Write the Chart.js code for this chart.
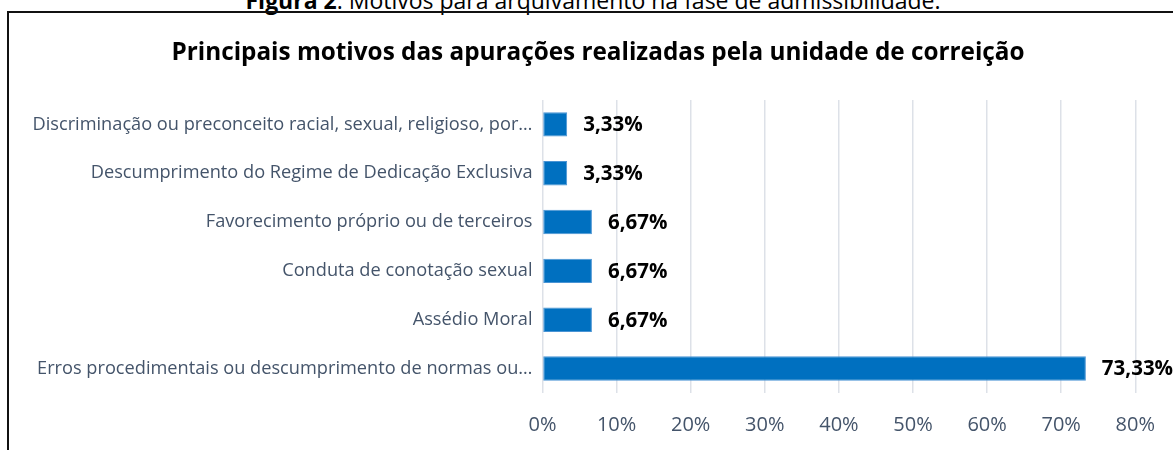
<!DOCTYPE html>
<html>
<head>
<meta charset="utf-8">
<script src="https://cdn.jsdelivr.net/npm/chart.js@4.4.1/dist/chart.umd.min.js"></script>
<style>
  html, body { margin: 0; padding: 0; background: #fff; overflow: hidden; }
  #wrap { position: relative; width: 1173px; height: 450px; }
  #frame { position: absolute; left: 7px; top: 11px; width: 1170px; height: 450px;
           border-top: 2px solid #111; border-left: 2px solid #111; box-sizing: border-box; }
  #fig { position: absolute; left: 0; width: 1186px; text-align: center; top: -11px;
         font-family: "Open Sans", sans-serif; font-size: 23px; line-height: 22px; color: #000; white-space: nowrap; }
  canvas { position: absolute; left: 0; top: 0; }
</style>
</head>
<body>
<div id="wrap">
  <div id="fig"><b>Figura 2</b>: Motivos para arquivamento na fase de admissibilidade.</div>
  <div id="frame"></div>
  <canvas id="c" width="1173" height="450"></canvas>
</div>
<script>
const titleText = "Principais motivos das apurações realizadas pela unidade de correição";
const categories = [
  "Discriminação ou preconceito racial, sexual, religioso, por…",
  "Descumprimento do Regime de Dedicação Exclusiva",
  "Favorecimento próprio ou de terceiros",
  "Conduta de conotação sexual",
  "Assédio Moral",
  "Erros procedimentais ou descumprimento de normas ou…"
];
const values = [3.33, 3.33, 6.67, 6.67, 6.67, 73.33];
const valueLabels = ["3,33%", "3,33%", "6,67%", "6,67%", "6,67%", "73,33%"];
const xTicks = [0, 10, 20, 30, 40, 50, 60, 70, 80];

const labelColor = "#44546A";

const valueLabelPlugin = {
  id: "valueLabels",
  afterDatasetsDraw(chart) {
    const ctx = chart.ctx;
    const meta = chart.getDatasetMeta(0);
    ctx.save();
    ctx.font = "bold 20.5px 'Open Sans', sans-serif";
    ctx.fillStyle = "#000";
    ctx.textAlign = "left";
    ctx.textBaseline = "middle";
    meta.data.forEach((bar, i) => {
      ctx.fillText(valueLabels[i], bar.x + 16, bar.y + 1);
    });
    ctx.restore();
  }
};

const titleShiftPlugin = {
  id: "titleShift",
  afterLayout(chart) {
    const t = chart.titleBlock;
    if (t) { t.left += 11.5; t.right += 11.5; }
  }
};

new Chart(document.getElementById("c"), {
  type: "bar",
  data: {
    labels: categories,
    datasets: [{
      data: values,
      backgroundColor: "#0070C0",
      borderColor: "#4A94D4",
      borderWidth: 1,
      borderSkipped: false,
      categoryPercentage: 0.5,
      barPercentage: 1.0
    }]
  },
  options: {
    indexAxis: "y",
    responsive: false,
    animation: false,
    layout: { padding: { left: 0, right: 0, top: 0, bottom: 0 } },
    plugins: {
      legend: { display: false },
      tooltip: { enabled: false },
      title: {
        display: true,
        text: titleText,
        color: "#000",
        font: { family: "'Open Sans', sans-serif", size: 24.3, weight: "bold", lineHeight: 1.2 },
        padding: { top: 38.5, bottom: 32.3 },
        align: "center"
      }
    },
    scales: {
      x: {
        min: 0, max: 80,
        afterBuildTicks(scale) { scale.ticks = xTicks.map(v => ({ value: v })); },
        afterFit(scale) { scale.height = 57; },
        grid: { color: "#DDE1E8", lineWidth: 1.5, drawTicks: false },
        border: { display: false },
        ticks: {
          color: labelColor,
          padding: 18,
          font: { family: "'Open Sans', sans-serif", size: 20, lineHeight: 1.4 },
          callback: v => v + "%"
        }
      },
      y: {
        afterFit(scale) { scale.width = 542.5; },
        grid: { display: false, drawTicks: false },
        border: { display: false },
        ticks: {
          color: labelColor,
          padding: 10,
          font: { family: "'Open Sans', sans-serif", size: 18.2 }
        }
      }
    }
  },
  plugins: [valueLabelPlugin, titleShiftPlugin]
});
</script>
</body>
</html>
